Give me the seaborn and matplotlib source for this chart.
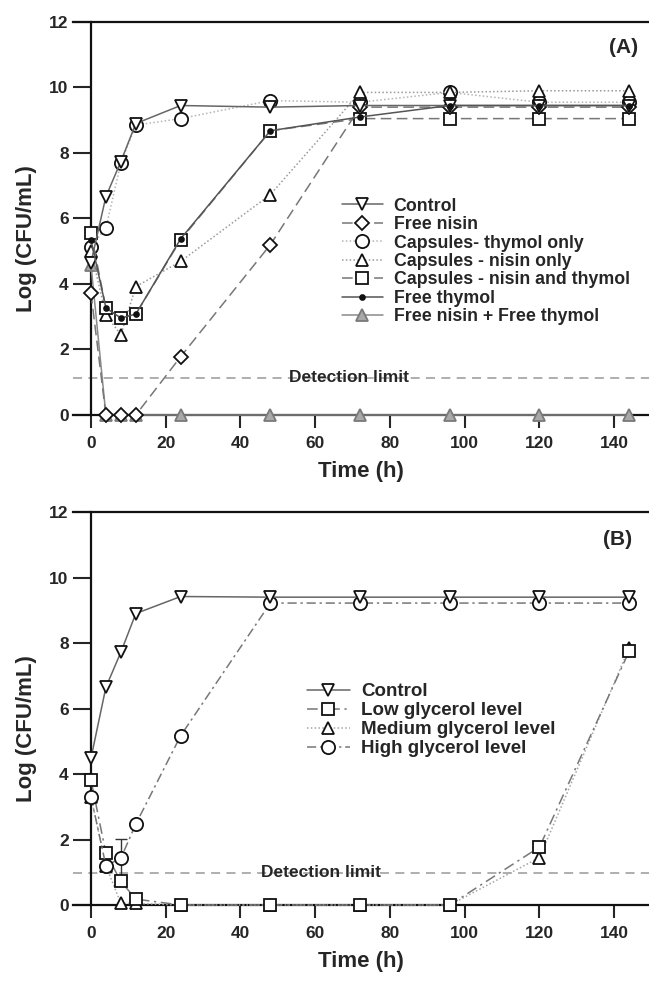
import matplotlib
matplotlib.use("Agg")
import matplotlib.pyplot as plt
import seaborn as sns

sns.set_style("ticks")
plt.rcParams["font.family"] = ["Liberation Sans", "DejaVu Sans"]
plt.rcParams["font.weight"] = "bold"

time_h = [0, 4, 8, 12, 24, 48, 72, 96, 120, 144]

# panel A - antimicrobial treatments
a_control = [4.65, 6.67, 7.74, 8.9, 9.45, 9.4, 9.45, 9.45, 9.45, 9.45]
a_free_nisin = [3.73, 0, 0, 0, 1.78, 5.2, 9.4, 9.4, 9.4, 9.4]
a_caps_thymol = [5.14, 5.71, 7.7, 8.85, 9.05, 9.6, 9.55, 9.85, 9.55, 9.55]
a_caps_nisin = [5.0, 3.06, 2.45, 3.92, 4.69, 6.73, 9.85, 9.85, 9.9, 9.9]
a_caps_both = [5.56, 3.27, 2.96, 3.08, 5.35, 8.68, 9.05, 9.05, 9.05, 9.05]
a_free_thymol = [5.35, 3.27, 2.96, 3.08, 5.38, 8.68, 9.1, 9.45, 9.45, 9.45]
a_free_both = [4.59, 0, 0, 0, 0, 0, 0, 0, 0, 0]
a_detection = 1.13

# panel B - glycerol levels
b_control = [4.48, 6.65, 7.72, 8.9, 9.42, 9.4, 9.4, 9.4, 9.4, 9.4]
b_low = [3.82, 1.58, 0.72, 0.18, 0, 0, 0, 0, 1.77, 7.75]
b_medium = [3.31, 1.2, 0.05, 0.05, 0, 0, 0, 0, 1.45, 7.85]
b_high = [3.31, 1.2, 1.43, 2.47, 5.17, 9.22, 9.22, 9.22, 9.22, 9.22]
b_high_err = [0, 0, 0.58, 0, 0, 0, 0, 0, 0, 0]
b_detection = 0.98

x_ticks = [0, 20, 40, 60, 80, 100, 120, 140]
y_ticks = [0, 2, 4, 6, 8, 10, 12]

OPEN = dict(mfc="white", mec="#111111", mew=1.3)


def draw(ax, y, label, color, ls, marker, ms, z, **kw):
    style = dict(OPEN)
    style.update(kw)
    sns.lineplot(x=time_h, y=y, ax=ax, label=label, color=color, linestyle=ls,
                 marker=marker, ms=ms, lw=1.1, errorbar=None, clip_on=False,
                 zorder=z, **style)


def style_axes(ax, detection, det_x, tag, tag_xy):
    ax.set_xlim(-4.8, 149.3)
    ax.set_ylim(0, 12)
    ax.spines["left"].set_position(("data", 0))
    ax.spines["right"].set_visible(False)
    for s in ["left", "top", "bottom"]:
        ax.spines[s].set_linewidth(1.6)
        ax.spines[s].set_color("#111111")
    ax.set_xticks(x_ticks)
    ax.set_yticks(y_ticks)
    ax.tick_params(axis="x", direction="out", length=9, width=1.5, pad=6, labelsize=12.5)
    ax.tick_params(axis="y", direction="out", length=13, width=1.5, pad=3, labelsize=12.5)
    for t in ax.get_xticklabels() + ax.get_yticklabels():
        t.set_fontweight("bold")
    ax.axhline(detection, color="#a8a8a8", lw=1.3, ls=(0, (5, 3.5)), zorder=1)
    ax.text(det_x, detection, "Detection limit", ha="center", va="center",
            fontsize=12.5, fontweight="bold", zorder=2)
    ax.text(tag_xy[0], tag_xy[1], tag, transform=ax.transAxes, ha="right", va="top",
            fontsize=15, fontweight="bold")
    ax.set_xlabel("Time (h)", fontsize=16, fontweight="bold", labelpad=7)
    ax.set_ylabel("Log (CFU/mL)", fontsize=16, fontweight="bold")
    ax.yaxis.set_label_coords(-0.062, 0.45)


fig = plt.figure(figsize=(6.49, 9.82), dpi=100)
ax_a = fig.add_axes([0.1125, 0.5774, 0.8875, 0.4002])
ax_b = fig.add_axes([0.1125, 0.0784, 0.8875, 0.4002])

# Panel A
draw(ax_a, a_free_both, "Free nisin + Free thymol", "#8a8a8a", "-", "^", 8.5, 3,
     mfc="#a9a9a9", mec="#7a7a7a")
draw(ax_a, a_caps_thymol, "Capsules- thymol only", "#b5b5b5", (0, (1, 1.5)), "o", 9.5, 4)
draw(ax_a, a_caps_nisin, "Capsules - nisin only", "#9a9a9a", (0, (1, 1.5)), "^", 9, 4)
draw(ax_a, a_caps_both, "Capsules - nisin and thymol", "#777777", (0, (7, 3.5)), "s", 8.5, 5)
draw(ax_a, a_free_nisin, "Free nisin", "#777777", (0, (7, 3.5)), "D", 7.5, 5)
draw(ax_a, a_control, "Control", "#666666", "-", "v", 9, 6)
draw(ax_a, a_free_thymol, "Free thymol", "#555555", "-", "o", 3.5, 7,
     mfc="#111111", mec="#111111")

handles, labels = ax_a.get_legend_handles_labels()
order = ["Control", "Free nisin", "Capsules- thymol only", "Capsules - nisin only",
         "Capsules - nisin and thymol", "Free thymol", "Free nisin + Free thymol"]
hmap = dict(zip(labels, handles))
ax_a.legend([hmap[k] for k in order], order, loc="upper left",
            bbox_to_anchor=(0.467, 0.553), frameon=False, borderpad=0, borderaxespad=0,
            handlelength=2.3, handletextpad=0.6, labelspacing=0.08, numpoints=1,
            prop={"size": 12.8, "weight": "bold"})
style_axes(ax_a, a_detection, 69, "(A)", (0.981, 0.96))

# Panel B
draw(ax_b, b_medium, "Medium glycerol level", "#a5a5a5", (0, (1, 1.5)), "^", 9, 4)
draw(ax_b, b_low, "Low glycerol level", "#777777", (0, (7, 3, 1.5, 3)), "s", 8.5, 5)
draw(ax_b, b_high, "High glycerol level", "#777777", (0, (6, 2.5, 1.5, 2.5)), "o", 9.5, 5)
ax_b.errorbar(time_h, b_high, yerr=b_high_err, fmt="none", ecolor="#333333",
              elinewidth=1, capsize=4, zorder=4)
draw(ax_b, b_control, "Control", "#666666", "-", "v", 9, 6)

handles, labels = ax_b.get_legend_handles_labels()
order_b = ["Control", "Low glycerol level", "Medium glycerol level", "High glycerol level"]
hmap = dict(zip(labels, handles))
ax_b.legend([hmap[k] for k in order_b], order_b, loc="upper left",
            bbox_to_anchor=(0.406, 0.565), frameon=False, borderpad=0, borderaxespad=0,
            handlelength=2.3, handletextpad=0.6, labelspacing=0.1, numpoints=1,
            prop={"size": 13.5, "weight": "bold"})
style_axes(ax_b, b_detection, 61.5, "(B)", (0.970, 0.955))

fig.savefig("out.png", dpi=100)
